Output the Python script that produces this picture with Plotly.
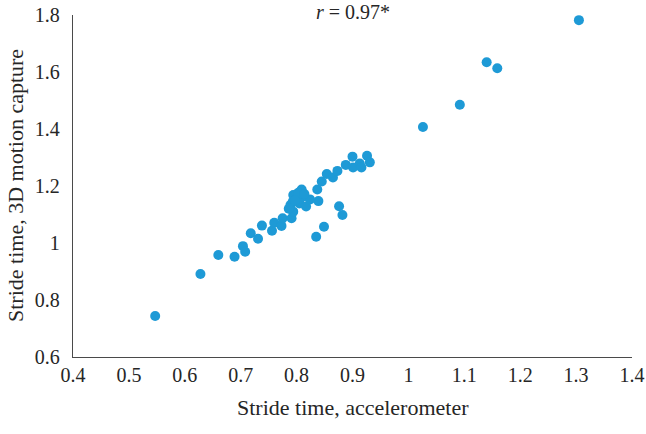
import plotly.graph_objects as go

stride_accel = [0.547, 0.628, 0.660, 0.689, 0.704, 0.708, 0.718, 0.731, 0.738, 0.756,
                0.760, 0.773, 0.775, 0.791, 0.794, 0.789, 0.793, 0.794, 0.800, 0.809,
                0.811, 0.805, 0.817, 0.824, 0.839, 0.837, 0.845, 0.854, 0.865, 0.873,
                0.888, 0.900, 0.901, 0.913, 0.916, 0.926, 0.931, 0.876, 0.882, 0.849,
                0.835, 1.026, 1.092, 1.140, 1.159, 1.305, 0.803, 0.797, 0.814, 0.786]
stride_mocap = [0.744, 0.891, 0.958, 0.952, 0.989, 0.969, 1.034, 1.015, 1.061, 1.043,
                1.071, 1.060, 1.087, 1.087, 1.110, 1.133, 1.145, 1.168, 1.156, 1.188,
                1.162, 1.139, 1.128, 1.153, 1.147, 1.188, 1.216, 1.242, 1.230, 1.253,
                1.274, 1.303, 1.265, 1.279, 1.265, 1.306, 1.283, 1.129, 1.098, 1.057,
                1.022, 1.407, 1.485, 1.634, 1.613, 1.782, 1.176, 1.149, 1.172, 1.120]

x_ticks = [0.4, 0.5, 0.6, 0.7, 0.8, 0.9, 1.0, 1.1, 1.2, 1.3, 1.4]
x_tick_labels = ["0.4", "0.5", "0.6", "0.7", "0.8", "0.9", "1", "1.1", "1.2", "1.3", "1.4"]
y_ticks = [0.6, 0.8, 1.0, 1.2, 1.4, 1.6, 1.8]
y_tick_labels = ["0.6", "0.8", "1", "1.2", "1.4", "1.6", "1.8"]

FONT = "Liberation Serif, Times New Roman, serif"
TXT = "#262626"
AX = "#4a4a4a"

fig = go.Figure()
fig.add_trace(go.Scatter(
    x=stride_accel, y=stride_mocap, mode="markers",
    marker=dict(size=10, color="#1E9AD6", line=dict(width=0)),
    cliponaxis=False, showlegend=False, hoverinfo="skip",
))

fig.update_layout(
    width=646, height=434, autosize=False,
    margin=dict(l=73, r=14, t=15, b=77),
    paper_bgcolor="white", plot_bgcolor="white",
    font=dict(family=FONT, size=20, color=TXT),
    hovermode=False,
    xaxis=dict(
        range=[0.4, 1.4], tickvals=x_ticks, ticktext=x_tick_labels,
        showgrid=False, zeroline=False, showline=True, linecolor=AX, linewidth=1.3,
        ticks="", ticklabelstandoff=0, automargin=False,
        tickfont=dict(family=FONT, size=20, color=TXT),
    ),
    yaxis=dict(
        range=[0.6, 1.8], tickvals=y_ticks, ticktext=y_tick_labels,
        showgrid=False, zeroline=False, showline=True, linecolor=AX, linewidth=1.3,
        ticks="", ticklabelstandoff=8, automargin=False,
        tickfont=dict(family=FONT, size=20, color=TXT),
    ),
    annotations=[
        dict(text="<i>r</i> = 0.97*", xref="paper", yref="paper", x=0.5, y=1.0,
             yshift=3, xanchor="center", yanchor="middle", showarrow=False,
             font=dict(family=FONT, size=20, color=TXT)),
        dict(text="Stride time, accelerometer", xref="paper", yref="paper",
             x=0.5, y=0, yshift=-50, xanchor="center", yanchor="middle",
             showarrow=False, font=dict(family=FONT, size=22, color=TXT)),
        dict(text="Stride time, 3D motion capture", xref="paper", yref="paper",
             x=0, y=0.5, xshift=-58, textangle=-90, xanchor="center", yanchor="middle",
             showarrow=False, font=dict(family=FONT, size=22, color=TXT)),
    ],
)

fig.write_html(
    "out.html",
    config={"displayModeBar": False, "staticPlot": True},
    post_script="document.body.style.margin='0';document.body.style.overflow='hidden';",
)
